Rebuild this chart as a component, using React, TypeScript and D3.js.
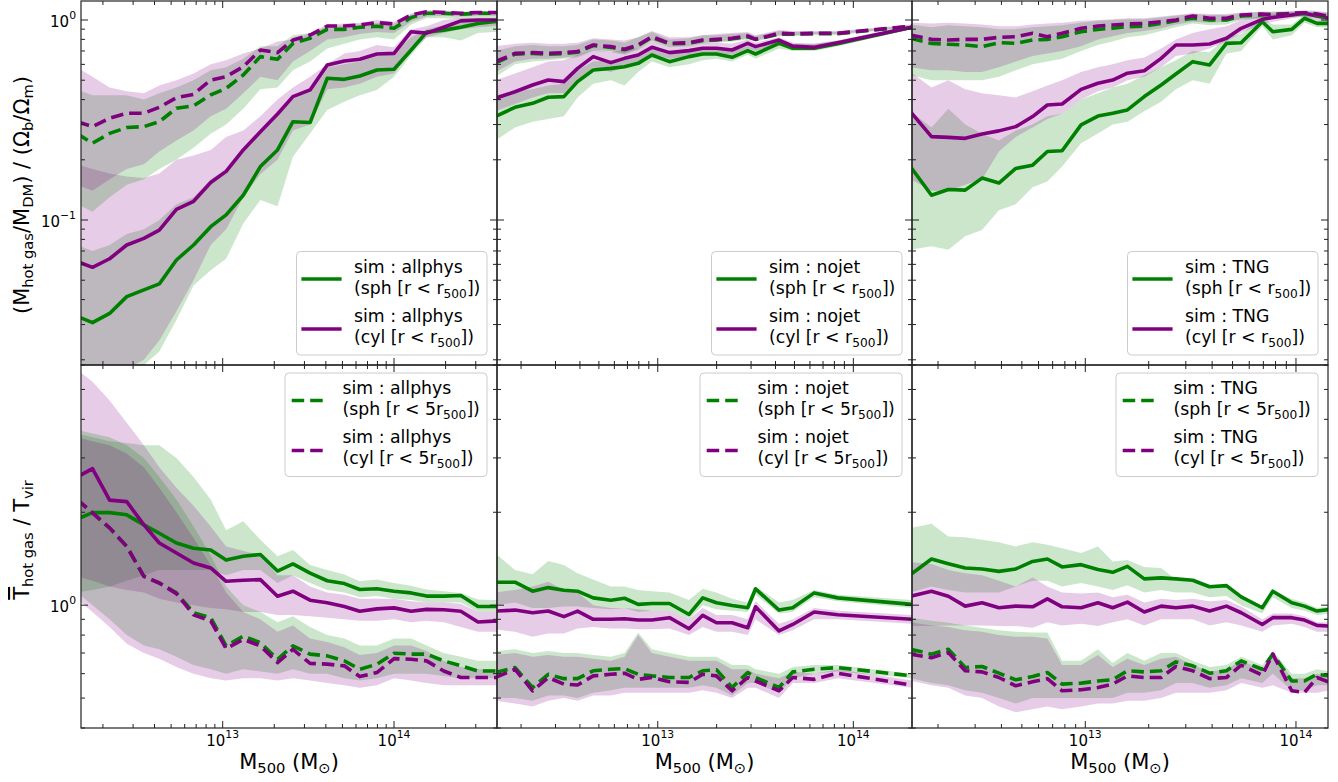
import * as d3 from "d3";

// log10(M500 / Msun) of the mass bins, one list per simulation
const logMAllphys = [12.15, 12.24, 12.34, 12.44, 12.54, 12.63, 12.73, 12.83, 12.93, 13.02,
  13.12, 13.22, 13.32, 13.41, 13.51, 13.61, 13.71, 13.8, 13.9, 14.0,
  14.1, 14.19, 14.29, 14.39, 14.49, 14.58, 14.68];
const logMNojet = [12.17, 12.27, 12.36, 12.44, 12.52, 12.59, 12.67, 12.76, 12.83, 12.9,
  12.97, 13.06, 13.16, 13.23, 13.3, 13.38, 13.46, 13.5, 13.62, 13.69,
  13.8, 13.92, 14.3];
const logMTng = [12.17, 12.27, 12.35, 12.43, 12.51, 12.59, 12.67, 12.75, 12.82, 12.89,
  12.98, 13.06, 13.13, 13.2, 13.28, 13.36, 13.43, 13.51, 13.59, 13.67,
  13.74, 13.84, 13.89, 13.98, 14.04, 14.1, 14.16];

// ---- allphys : hot gas fraction
const allGasSph = [0.033, 0.0307, 0.0341, 0.0414, 0.0447, 0.0479, 0.0631, 0.075, 0.0926, 0.106,
  0.133, 0.185, 0.224, 0.31, 0.307, 0.511, 0.505, 0.525, 0.562, 0.567,
  0.708, 0.87, 0.89, 0.92, 0.96, 0.98, 0.99];
const allGasSphLo = [0.012, 0.012, 0.013, 0.015, 0.0188, 0.022, 0.0316, 0.047, 0.056, 0.064,
  0.096, 0.126, 0.117, 0.207, 0.271, 0.355, 0.39, 0.42, 0.447, 0.52,
  0.668, 0.82, 0.82, 0.79, 0.86, 0.87, 0.87];
const allGasSphHi = [0.075, 0.07, 0.075, 0.085, 0.09, 0.1, 0.12, 0.13, 0.16, 0.18,
  0.23, 0.28, 0.34, 0.4, 0.45, 0.58, 0.6, 0.62, 0.66, 0.68,
  0.82, 0.9, 0.94, 0.98, 1.0, 1.0, 1.0];
const allGasCyl = [0.062, 0.058, 0.064, 0.075, 0.081, 0.089, 0.113, 0.124, 0.154, 0.175,
  0.224, 0.276, 0.339, 0.414, 0.447, 0.596, 0.624, 0.636, 0.676, 0.681,
  0.874, 0.86, 0.92, 0.99, 1.0, 1.0, 1.0];
const allGasCylLo = [0.015, 0.015, 0.016, 0.018, 0.02, 0.025, 0.035, 0.05, 0.075, 0.09,
  0.13, 0.17, 0.2, 0.28, 0.3, 0.45, 0.46, 0.48, 0.52, 0.54,
  0.7, 0.82, 0.86, 0.9, 0.92, 0.93, 0.93];
const allGasCylHi = [0.19, 0.18, 0.171, 0.165, 0.162, 0.171, 0.2, 0.21, 0.224, 0.26,
  0.28, 0.33, 0.4, 0.46, 0.52, 0.6, 0.68, 0.7, 0.75, 0.73,
  0.9, 0.93, 1.0, 1.02, 1.02, 1.02, 1.02];
const allGasSph5 = [0.27, 0.242, 0.271, 0.29, 0.293, 0.31, 0.362, 0.372, 0.422, 0.455,
  0.531, 0.656, 0.636, 0.764, 0.81, 0.898, 0.898, 0.92, 0.93, 0.909,
  1.03, 1.08, 1.08, 1.07, 1.08, 1.08, 1.08];
const allGasSph5Lo = [0.12, 0.11, 0.13, 0.15, 0.16, 0.18, 0.2, 0.23, 0.27, 0.3,
  0.36, 0.45, 0.46, 0.56, 0.62, 0.72, 0.76, 0.8, 0.82, 0.8,
  0.95, 1.02, 1.02, 1.01, 1.02, 1.02, 1.02];
const allGasSph5Hi = [0.45, 0.42, 0.42, 0.42, 0.4, 0.43, 0.46, 0.5, 0.56, 0.58,
  0.64, 0.74, 0.74, 0.84, 0.86, 0.93, 0.94, 0.95, 0.97, 0.96,
  1.06, 1.1, 1.1, 1.09, 1.1, 1.1, 1.1];
const allGasCyl5 = [0.31, 0.293, 0.323, 0.342, 0.342, 0.366, 0.409, 0.425, 0.501, 0.521,
  0.584, 0.708, 0.687, 0.794, 0.841, 0.933, 0.933, 0.944, 0.97, 0.955,
  1.06, 1.1, 1.09, 1.08, 1.09, 1.09, 1.09];
const allGasCyl5Lo = [0.15, 0.14, 0.16, 0.18, 0.19, 0.22, 0.25, 0.28, 0.33, 0.36,
  0.43, 0.52, 0.5, 0.62, 0.7, 0.8, 0.82, 0.85, 0.87, 0.86,
  0.98, 1.04, 1.05, 1.04, 1.05, 1.05, 1.05];
const allGasCyl5Hi = [0.58, 0.52, 0.46, 0.44, 0.43, 0.47, 0.5, 0.54, 0.6, 0.63,
  0.68, 0.72, 0.78, 0.8, 0.86, 0.95, 0.96, 0.97, 1.0, 0.98,
  1.08, 1.12, 1.12, 1.1, 1.11, 1.1, 1.1];

// ---- allphys : hot gas temperature / T_vir
const allTSph = [1.9, 1.995, 1.995, 1.962, 1.82, 1.71, 1.59, 1.53, 1.51, 1.4,
  1.44, 1.46, 1.29, 1.36, 1.27, 1.2, 1.175, 1.124, 1.13, 1.11,
  1.096, 1.07, 1.07, 1.075, 0.99, 0.99, 0.99];
const allTSphLo = [1.1, 1.12, 1.15, 1.2, 1.25, 1.3, 1.3, 1.3, 1.3, 1.25,
  1.3, 1.3, 1.18, 1.25, 1.18, 1.12, 1.1, 1.06, 1.07, 1.05,
  1.04, 1.02, 1.02, 1.02, 0.95, 0.95, 0.95];
const allTSphHi = [3.6, 3.5, 3.4, 3.35, 3.3, 3.3, 3.0, 2.6, 2.2, 1.75,
  1.87, 1.63, 1.44, 1.51, 1.35, 1.3, 1.256, 1.195, 1.21, 1.18,
  1.157, 1.124, 1.11, 1.096, 1.043, 1.04, 1.04];
const allTCyl = [2.6, 2.77, 2.19, 2.165, 1.82, 1.59, 1.476, 1.37, 1.32, 1.195,
  1.204, 1.21, 1.069, 1.11, 1.038, 1.018, 0.99, 0.956, 0.973, 0.98,
  0.956, 0.969, 0.966, 0.956, 0.882, 0.888, 0.888];
const allTCylLo = [1.24, 1.2, 1.15, 1.12, 1.1, 1.05, 1.02, 1.0, 0.98, 0.97,
  0.95, 0.95, 0.93, 0.93, 0.92, 0.91, 0.9, 0.89, 0.89, 0.9,
  0.88, 0.89, 0.88, 0.85, 0.82, 0.82, 0.82];
const allTCylHi = [5.8, 5.3, 4.6, 3.9, 3.3, 2.8, 2.4, 2.1, 1.8, 1.55,
  1.5, 1.45, 1.25, 1.25, 1.15, 1.1, 1.08, 1.05, 1.05, 1.05,
  1.03, 1.02, 1.02, 1.01, 0.95, 0.95, 0.95];
const allTSph5 = [2.2, 1.99, 1.78, 1.55, 1.24, 1.18, 1.096, 0.945, 0.911, 0.738,
  0.794, 0.756, 0.668, 0.738, 0.694, 0.685, 0.66, 0.62, 0.644, 0.699,
  0.694, 0.694, 0.66, 0.636, 0.612, 0.612, 0.612];
const allTSph5Lo = [1.1, 1.0, 0.9, 0.8, 0.74, 0.72, 0.68, 0.64, 0.62, 0.6,
  0.62, 0.61, 0.6, 0.62, 0.6, 0.6, 0.58, 0.57, 0.58, 0.6,
  0.6, 0.6, 0.59, 0.58, 0.58, 0.58, 0.58];
const allTSph5Hi = [3.7, 3.6, 3.5, 3.3, 3.0, 2.6, 2.2, 1.8, 1.45, 1.15,
  1.0, 0.95, 0.88, 0.92, 0.85, 0.8, 0.78, 0.74, 0.74, 0.78,
  0.78, 0.74, 0.7, 0.68, 0.66, 0.66, 0.66];
const allTCyl5 = [2.2, 1.99, 1.78, 1.55, 1.24, 1.18, 1.09, 0.93, 0.89, 0.723,
  0.775, 0.738, 0.652, 0.719, 0.648, 0.644, 0.636, 0.587, 0.605, 0.671,
  0.668, 0.66, 0.612, 0.583, 0.583, 0.583, 0.583];
const allTCyl5Lo = [1.05, 0.95, 0.85, 0.75, 0.7, 0.67, 0.63, 0.6, 0.58, 0.57,
  0.58, 0.58, 0.57, 0.58, 0.57, 0.56, 0.55, 0.54, 0.55, 0.58,
  0.57, 0.56, 0.55, 0.55, 0.55, 0.55, 0.55];
const allTCyl5Hi = [3.5, 3.4, 3.3, 3.1, 2.8, 2.4, 2.0, 1.65, 1.35, 1.1,
  0.95, 0.9, 0.82, 0.86, 0.78, 0.76, 0.73, 0.69, 0.7, 0.74,
  0.74, 0.71, 0.66, 0.63, 0.62, 0.62, 0.62];

// ---- nojet : hot gas fraction
const noGasSph = [0.329, 0.366, 0.383, 0.411, 0.414, 0.492, 0.562, 0.573, 0.584, 0.607,
  0.668, 0.619, 0.656, 0.676, 0.676, 0.651, 0.703, 0.676, 0.764, 0.722,
  0.722, 0.76, 0.92];
const noGasSphLo = [0.25, 0.29, 0.31, 0.32, 0.33, 0.41, 0.48, 0.5, 0.47, 0.55,
  0.62, 0.58, 0.6, 0.63, 0.64, 0.62, 0.67, 0.64, 0.72, 0.7,
  0.7, 0.74, 0.9];
const noGasSphHi = [0.42, 0.44, 0.45, 0.47, 0.48, 0.56, 0.62, 0.63, 0.64, 0.66,
  0.71, 0.67, 0.7, 0.72, 0.72, 0.7, 0.74, 0.72, 0.8, 0.76,
  0.76, 0.79, 0.94];
const noGasCyl = [0.406, 0.438, 0.473, 0.501, 0.492, 0.573, 0.656, 0.612, 0.643, 0.668,
  0.73, 0.687, 0.703, 0.722, 0.722, 0.708, 0.764, 0.736, 0.794, 0.74,
  0.73, 0.77, 0.92];
const noGasCylLo = [0.35, 0.38, 0.41, 0.43, 0.43, 0.5, 0.58, 0.55, 0.58, 0.61,
  0.68, 0.64, 0.66, 0.68, 0.68, 0.67, 0.72, 0.7, 0.76, 0.72,
  0.71, 0.75, 0.9];
const noGasCylHi = [0.5, 0.54, 0.58, 0.62, 0.63, 0.67, 0.71, 0.69, 0.71, 0.72,
  0.78, 0.74, 0.75, 0.77, 0.77, 0.76, 0.8, 0.77, 0.82, 0.77,
  0.76, 0.79, 0.94];
const noGasSph5 = [0.61, 0.675, 0.68, 0.675, 0.68, 0.69, 0.745, 0.73, 0.71, 0.745,
  0.82, 0.76, 0.765, 0.79, 0.795, 0.805, 0.825, 0.8, 0.85, 0.85,
  0.855, 0.855, 0.93];
const noGasSph5Lo = [0.52, 0.6, 0.62, 0.63, 0.64, 0.65, 0.7, 0.69, 0.67, 0.71,
  0.78, 0.73, 0.74, 0.76, 0.77, 0.78, 0.8, 0.78, 0.83, 0.83,
  0.84, 0.84, 0.92];
const noGasSph5Hi = [0.7, 0.74, 0.75, 0.74, 0.74, 0.75, 0.8, 0.79, 0.77, 0.82,
  0.87, 0.8, 0.81, 0.84, 0.84, 0.85, 0.86, 0.83, 0.88, 0.87,
  0.87, 0.87, 0.94];
const noGasCyl5 = [0.619, 0.681, 0.687, 0.681, 0.687, 0.695, 0.75, 0.736, 0.714, 0.75,
  0.825, 0.764, 0.77, 0.794, 0.8, 0.81, 0.832, 0.8, 0.858, 0.853,
  0.858, 0.858, 0.933];
const noGasCyl5Lo = [0.55, 0.62, 0.64, 0.64, 0.65, 0.66, 0.71, 0.7, 0.68, 0.72,
  0.79, 0.74, 0.75, 0.77, 0.78, 0.79, 0.81, 0.79, 0.84, 0.84,
  0.85, 0.85, 0.92];
const noGasCyl5Hi = [0.74, 0.76, 0.77, 0.76, 0.76, 0.77, 0.81, 0.8, 0.79, 0.82,
  0.88, 0.82, 0.82, 0.84, 0.85, 0.86, 0.87, 0.84, 0.89, 0.88,
  0.88, 0.88, 0.95];

// ---- nojet : hot gas temperature / T_vir
const noTSph = [1.187, 1.187, 1.11, 1.14, 1.118, 1.11, 1.056, 1.038, 1.053, 1.006,
  1.013, 1.013, 0.933, 1.056, 1.018, 0.998, 0.981, 1.13, 0.964, 0.981,
  1.096, 1.056, 1.006];
const noTSphLo = [1.0, 1.02, 0.98, 0.98, 0.99, 0.99, 0.98, 0.97, 0.98, 0.95,
  0.96, 0.96, 0.9, 1.0, 0.97, 0.96, 0.95, 1.08, 0.94, 0.95,
  1.06, 1.03, 0.98];
const noTSphHi = [1.47, 1.3, 1.26, 1.39, 1.35, 1.27, 1.21, 1.15, 1.15, 1.12,
  1.11, 1.1, 1.04, 1.13, 1.1, 1.05, 1.02, 1.15, 1.02, 1.04,
  1.12, 1.08, 1.04];
const noTCyl = [0.957, 0.964, 0.945, 0.957, 0.918, 0.957, 0.9, 0.9, 0.904, 0.895,
  0.895, 0.911, 0.839, 0.927, 0.877, 0.877, 0.845, 0.988, 0.825, 0.866,
  0.95, 0.931, 0.9];
const noTCylLo = [0.835, 0.82, 0.79, 0.81, 0.81, 0.84, 0.85, 0.84, 0.84, 0.835,
  0.835, 0.84, 0.8, 0.85, 0.82, 0.82, 0.8, 0.9, 0.8, 0.83,
  0.9, 0.9, 0.87];
const noTCylHi = [1.1, 1.12, 1.15, 1.19, 1.12, 1.1, 1.0, 0.98, 0.98, 0.97,
  0.96, 0.96, 0.9, 0.98, 0.93, 0.93, 0.9, 1.03, 0.87, 0.9,
  0.98, 0.96, 0.93];
const noTSph5 = [0.605, 0.628, 0.541, 0.597, 0.578, 0.578, 0.613, 0.62, 0.623, 0.597,
  0.59, 0.583, 0.583, 0.613, 0.618, 0.541, 0.605, 0.583, 0.541, 0.608,
  0.62, 0.628, 0.59];
const noTSph5Lo = [0.5, 0.5, 0.49, 0.51, 0.51, 0.5, 0.52, 0.53, 0.54, 0.54,
  0.54, 0.54, 0.54, 0.55, 0.54, 0.51, 0.56, 0.56, 0.52, 0.58,
  0.6, 0.61, 0.58];
const noTSph5Hi = [0.71, 0.72, 0.7, 0.71, 0.7, 0.7, 0.69, 0.68, 0.7, 0.815,
  0.72, 0.7, 0.68, 0.68, 0.68, 0.64, 0.64, 0.62, 0.6, 0.63,
  0.64, 0.64, 0.6];
const noTCyl5 = [0.583, 0.62, 0.528, 0.583, 0.555, 0.551, 0.59, 0.597, 0.602, 0.575,
  0.583, 0.565, 0.562, 0.597, 0.59, 0.528, 0.583, 0.568, 0.528, 0.583,
  0.575, 0.602, 0.551];
const noTCyl5Lo = [0.49, 0.48, 0.47, 0.49, 0.5, 0.49, 0.51, 0.51, 0.52, 0.52,
  0.52, 0.52, 0.52, 0.53, 0.52, 0.5, 0.54, 0.54, 0.5, 0.56,
  0.56, 0.58, 0.54];
const noTCyl5Hi = [0.69, 0.7, 0.68, 0.69, 0.68, 0.68, 0.67, 0.66, 0.68, 0.8,
  0.7, 0.68, 0.66, 0.66, 0.66, 0.62, 0.62, 0.6, 0.58, 0.61,
  0.6, 0.62, 0.57];

// ---- TNG : hot gas fraction
const tngGasSph = [0.185, 0.133, 0.142, 0.141, 0.162, 0.153, 0.181, 0.188, 0.22, 0.222,
  0.299, 0.331, 0.342, 0.355, 0.414, 0.473, 0.537, 0.619, 0.596, 0.764,
  0.77, 0.98, 0.874, 0.898, 1.02, 0.962, 0.962];
const tngGasSphLo = [0.071, 0.074, 0.071, 0.083, 0.089, 0.112, 0.12, 0.146, 0.156, 0.185,
  0.242, 0.271, 0.3, 0.31, 0.35, 0.39, 0.45, 0.5, 0.48, 0.68,
  0.7, 0.93, 0.8, 0.84, 0.97, 0.92, 0.92];
const tngGasSphHi = [0.35, 0.29, 0.36, 0.3, 0.27, 0.25, 0.28, 0.3, 0.33, 0.34,
  0.4, 0.43, 0.46, 0.48, 0.53, 0.58, 0.63, 0.7, 0.69, 0.82,
  0.85, 1.02, 0.95, 0.95, 1.06, 1.0, 1.0];
const tngGasCyl = [0.348, 0.261, 0.259, 0.256, 0.269, 0.279, 0.293, 0.329, 0.376, 0.38,
  0.45, 0.483, 0.501, 0.542, 0.558, 0.643, 0.75, 0.75, 0.759, 0.81,
  0.909, 1.008, 1.03, 1.06, 1.08, 1.047, 1.02];
const tngGasCylLo = [0.16, 0.14, 0.14, 0.15, 0.16, 0.22, 0.26, 0.29, 0.32, 0.34,
  0.4, 0.44, 0.46, 0.5, 0.52, 0.58, 0.66, 0.68, 0.72, 0.78,
  0.86, 0.96, 0.98, 1.02, 1.04, 1.0, 0.98];
const tngGasCylHi = [0.55, 0.46, 0.5, 0.45, 0.43, 0.42, 0.41, 0.44, 0.47, 0.5,
  0.55, 0.58, 0.6, 0.63, 0.65, 0.72, 0.8, 0.86, 0.9, 0.93,
  1.0, 1.05, 1.07, 1.1, 1.11, 1.08, 1.05];
const tngGasSph5 = [0.81, 0.764, 0.756, 0.75, 0.736, 0.77, 0.764, 0.794, 0.8, 0.825,
  0.874, 0.898, 0.909, 0.926, 0.933, 0.962, 0.992, 1.02, 1.0, 1.0,
  1.047, 1.06, 1.072, 1.072, 1.08, 1.06, 1.02];
const tngGasSph5Lo = [0.53, 0.5, 0.5, 0.5, 0.5, 0.52, 0.56, 0.6, 0.62, 0.64,
  0.7, 0.75, 0.78, 0.82, 0.84, 0.88, 0.92, 0.96, 0.94, 0.95,
  1.0, 1.02, 1.03, 1.03, 1.04, 1.02, 0.98];
const tngGasSph5Hi = [0.95, 0.92, 0.94, 0.93, 0.92, 0.9, 0.9, 0.92, 0.93, 0.94,
  0.97, 0.99, 1.0, 1.01, 1.01, 1.03, 1.05, 1.07, 1.06, 1.06,
  1.08, 1.1, 1.1, 1.1, 1.11, 1.1, 1.08];
const tngGasCyl5 = [0.841, 0.8, 0.794, 0.8, 0.8, 0.819, 0.825, 0.858, 0.825, 0.858,
  0.909, 0.933, 0.944, 0.955, 0.962, 0.981, 1.0, 1.047, 1.02, 1.02,
  1.06, 1.072, 1.06, 1.08, 1.088, 1.072, 1.04];
const tngGasCyl5Lo = [0.58, 0.56, 0.56, 0.55, 0.55, 0.58, 0.62, 0.66, 0.68, 0.7,
  0.74, 0.8, 0.83, 0.86, 0.88, 0.91, 0.95, 0.98, 0.97, 0.98,
  1.01, 1.03, 1.03, 1.04, 1.05, 1.03, 1.0];
const tngGasCyl5Hi = [0.97, 0.96, 0.97, 0.96, 0.95, 0.93, 0.93, 0.95, 0.96, 0.97,
  0.99, 1.0, 1.01, 1.02, 1.02, 1.04, 1.06, 1.08, 1.07, 1.07,
  1.09, 1.1, 1.1, 1.11, 1.12, 1.11, 1.09];

// ---- TNG : hot gas temperature / T_vir
const tngTSph = [1.256, 1.411, 1.363, 1.32, 1.31, 1.287, 1.31, 1.386, 1.411, 1.33,
  1.353, 1.304, 1.278, 1.336, 1.217, 1.226, 1.217, 1.204, 1.147, 1.157,
  1.064, 0.981, 1.11, 1.018, 0.993, 0.957, 0.969];
const tngTSphLo = [1.1, 1.15, 1.12, 1.1, 1.1, 1.1, 1.15, 1.2, 1.2, 1.15,
  1.18, 1.15, 1.12, 1.16, 1.1, 1.12, 1.1, 1.1, 1.06, 1.07,
  1.0, 0.94, 1.06, 0.98, 0.96, 0.93, 0.94];
const tngTSphHi = [1.777, 1.835, 1.67, 1.66, 1.63, 1.6, 1.55, 1.6, 1.57, 1.53,
  1.476, 1.55, 1.386, 1.4, 1.33, 1.32, 1.21, 1.21, 1.16, 1.16,
  1.07, 0.99, 1.12, 1.05, 1.02, 0.98, 0.99];
const tngTCyl = [1.069, 1.11, 1.069, 0.993, 1.018, 0.981, 0.993, 0.988, 1.048, 0.988,
  0.981, 1.018, 0.981, 1.023, 0.95, 0.993, 0.981, 0.993, 0.957, 0.993,
  0.945, 0.866, 0.911, 0.911, 0.895, 0.86, 0.856];
const tngTCylLo = [0.856, 0.856, 0.86, 0.86, 0.86, 0.856, 0.856, 0.845, 0.88, 0.86,
  0.87, 0.856, 0.88, 0.9, 0.86, 0.9, 0.9, 0.9, 0.86, 0.88,
  0.86, 0.82, 0.86, 0.87, 0.85, 0.82, 0.82];
const tngTCylHi = [1.38, 1.36, 1.3, 1.27, 1.25, 1.2, 1.15, 1.23, 1.15, 1.1,
  1.09, 1.1, 1.06, 1.08, 1.02, 1.05, 1.04, 1.05, 1.03, 1.04,
  0.99, 0.9, 0.94, 0.94, 0.92, 0.88, 0.88];
const tngTSph5 = [0.72, 0.694, 0.72, 0.628, 0.633, 0.602, 0.573, 0.587, 0.605, 0.555,
  0.559, 0.568, 0.573, 0.613, 0.608, 0.613, 0.655, 0.636, 0.602, 0.613,
  0.66, 0.62, 0.694, 0.568, 0.568, 0.597, 0.59];
const tngTSph5Lo = [0.58, 0.56, 0.55, 0.53, 0.52, 0.5, 0.48, 0.5, 0.5, 0.5,
  0.5, 0.5, 0.5, 0.52, 0.52, 0.53, 0.56, 0.56, 0.54, 0.55,
  0.58, 0.56, 0.6, 0.53, 0.53, 0.55, 0.55];
const tngTSph5Hi = [0.91, 0.89, 0.877, 0.86, 0.845, 0.83, 0.82, 0.815, 0.815, 0.66,
  0.66, 0.72, 0.65, 0.7, 0.66, 0.7, 0.7, 0.66, 0.63, 0.64,
  0.68, 0.64, 0.71, 0.6, 0.6, 0.62, 0.61];
const tngTCyl5 = [0.694, 0.676, 0.702, 0.613, 0.608, 0.583, 0.548, 0.565, 0.578, 0.528,
  0.532, 0.541, 0.555, 0.59, 0.583, 0.583, 0.633, 0.613, 0.578, 0.583,
  0.639, 0.593, 0.694, 0.528, 0.521, 0.583, 0.562];
const tngTCyl5Lo = [0.57, 0.55, 0.54, 0.51, 0.5, 0.47, 0.45, 0.46, 0.47, 0.46,
  0.47, 0.48, 0.48, 0.49, 0.49, 0.5, 0.52, 0.52, 0.52, 0.53,
  0.56, 0.54, 0.55, 0.52, 0.52, 0.52, 0.53];
const tngTCyl5Hi = [0.88, 0.86, 0.85, 0.83, 0.82, 0.8, 0.79, 0.79, 0.78, 0.64,
  0.64, 0.69, 0.63, 0.67, 0.64, 0.67, 0.68, 0.64, 0.61, 0.62,
  0.66, 0.62, 0.7, 0.58, 0.58, 0.6, 0.59];

const simNames = ["allphys", "nojet", "TNG"];

// layout (px)
const W = 1338;
const H = 782;
const COL_X = [81, 497, 912, 1328];
const ROW_Y = [1, 365, 728];
// x limits in log10(M500)
const X_LIM = [[12.173, 14.601], [12.178, 14.3], [12.1775, 14.152]];
const Y_LIM = [[10 ** -1.725, 10 ** 0.095], [0.4, 6]];

const GREEN = "#008000";
const PURPLE = "#800080";
const FONT = "DejaVu Sans";
const LW = 3.6;
const DASH = "12.5 6";

type Curve = { mid: number[]; lo: number[]; hi: number[]; color: string; dashed: boolean };

const curve = (mid, lo, hi, color, dashed): Curve => ({ mid, lo, hi, color, dashed });

const panels = [
  { row: 0, col: 0, logM: logMAllphys, curves: [
    curve(allGasSph, allGasSphLo, allGasSphHi, GREEN, false),
    curve(allGasCyl, allGasCylLo, allGasCylHi, PURPLE, false),
    curve(allGasSph5, allGasSph5Lo, allGasSph5Hi, GREEN, true),
    curve(allGasCyl5, allGasCyl5Lo, allGasCyl5Hi, PURPLE, true)] },
  { row: 0, col: 1, logM: logMNojet, curves: [
    curve(noGasSph, noGasSphLo, noGasSphHi, GREEN, false),
    curve(noGasCyl, noGasCylLo, noGasCylHi, PURPLE, false),
    curve(noGasSph5, noGasSph5Lo, noGasSph5Hi, GREEN, true),
    curve(noGasCyl5, noGasCyl5Lo, noGasCyl5Hi, PURPLE, true)] },
  { row: 0, col: 2, logM: logMTng, curves: [
    curve(tngGasSph, tngGasSphLo, tngGasSphHi, GREEN, false),
    curve(tngGasCyl, tngGasCylLo, tngGasCylHi, PURPLE, false),
    curve(tngGasSph5, tngGasSph5Lo, tngGasSph5Hi, GREEN, true),
    curve(tngGasCyl5, tngGasCyl5Lo, tngGasCyl5Hi, PURPLE, true)] },
  { row: 1, col: 0, logM: logMAllphys, curves: [
    curve(allTSph, allTSphLo, allTSphHi, GREEN, false),
    curve(allTCyl, allTCylLo, allTCylHi, PURPLE, false),
    curve(allTSph5, allTSph5Lo, allTSph5Hi, GREEN, true),
    curve(allTCyl5, allTCyl5Lo, allTCyl5Hi, PURPLE, true)] },
  { row: 1, col: 1, logM: logMNojet, curves: [
    curve(noTSph, noTSphLo, noTSphHi, GREEN, false),
    curve(noTCyl, noTCylLo, noTCylHi, PURPLE, false),
    curve(noTSph5, noTSph5Lo, noTSph5Hi, GREEN, true),
    curve(noTCyl5, noTCyl5Lo, noTCyl5Hi, PURPLE, true)] },
  { row: 1, col: 2, logM: logMTng, curves: [
    curve(tngTSph, tngTSphLo, tngTSphHi, GREEN, false),
    curve(tngTCyl, tngTCylLo, tngTCylHi, PURPLE, false),
    curve(tngTSph5, tngTSph5Lo, tngTSph5Hi, GREEN, true),
    curve(tngTCyl5, tngTCyl5Lo, tngTCyl5Hi, PURPLE, true)] },
];

// decade + minor ticks inside a log domain
function logTicks(lo: number, hi: number) {
  const out: { v: number; major: boolean; e: number }[] = [];
  for (let e = Math.floor(Math.log10(lo)) - 1; e <= Math.ceil(Math.log10(hi)); e++) {
    for (let k = 1; k < 10; k++) {
      const v = k * 10 ** e;
      if (v >= lo * 0.999 && v <= hi * 1.001) out.push({ v, major: k === 1, e });
    }
  }
  return out;
}

const expText = (e: number) => (e < 0 ? "\u2212" + Math.abs(e) : String(e));

function Legend({ row, col, sim }) {
  const dashed = row === 1;
  const w = dashed ? 202 : 190.5;
  const h = 103.5;
  const right = COL_X[col + 1] - 10;
  const top = row === 0 ? ROW_Y[1] - 10 - h : ROW_Y[1] + 8;
  const left = right - w;
  const r = dashed ? "5r" : "r";
  const entries = [
    { color: GREEN, kind: "sph" },
    { color: PURPLE, kind: "cyl" },
  ];
  return (
    <g>
      <rect x={left} y={top} width={w} height={h} rx={4} fill="white" fillOpacity={0.8} stroke="#cccccc" strokeWidth={1} />
      {entries.map((en, i) => (
        <g key={i}>
          <line
            x1={left + 6.7} x2={left + 43.3}
            y1={top + 27.5 + i * 50} y2={top + 27.5 + i * 50}
            stroke={en.color} strokeWidth={LW}
            strokeDasharray={dashed ? DASH : undefined}
            strokeLinecap={dashed ? "butt" : "square"}
          />
          <text x={left + 57.5} y={top + 21 + i * 49} fontSize={17.3} fontFamily={FONT}>sim : {sim}</text>
          <text x={left + 57.5} y={top + 42 + i * 49} fontSize={17.3} fontFamily={FONT}>
            ({en.kind} [r &lt; {r}<tspan fontSize={12.2} dy={4}>500</tspan><tspan dy={-4}>])</tspan>
          </text>
        </g>
      ))}
    </g>
  );
}

function Panel({ p }) {
  const x0 = COL_X[p.col];
  const x1 = COL_X[p.col + 1];
  const yt = ROW_Y[p.row];
  const yb = ROW_Y[p.row + 1];
  const xs = d3.scaleLog().domain(X_LIM[p.col].map((v) => 10 ** v)).range([x0, x1]);
  const ys = d3.scaleLog().domain(Y_LIM[p.row]).range([yb, yt]);
  const clipId = `clip-${p.row}-${p.col}`;

  const xTicks = logTicks(xs.domain()[0], xs.domain()[1]);
  const yTicks = logTicks(ys.domain()[0], ys.domain()[1]);

  const paths = p.curves.map((c: Curve) => {
    const n = Math.min(p.logM.length, c.mid.length, c.lo.length, c.hi.length);
    const idx = d3.range(n);
    const px = (i: number) => xs(10 ** p.logM[i]);
    const area = d3.area<number>().x(px).y0((i) => ys(c.lo[i])).y1((i) => ys(c.hi[i]));
    const line = d3.line<number>().x(px).y((i) => ys(c.mid[i]));
    return { c, band: area(idx), line: line(idx) };
  });

  const TICK_MAJ = 7;
  const TICK_MIN = 4;

  return (
    <g>
      <defs>
        <clipPath id={clipId}>
          <rect x={x0} y={yt} width={x1 - x0} height={yb - yt} />
        </clipPath>
      </defs>
      <g clipPath={`url(#${clipId})`}>
        {paths.map((d, i) => (
          <path key={"b" + i} d={d.band} fill={d.c.color} fillOpacity={0.2} stroke="none" />
        ))}
        {paths.map((d, i) => (
          <path key={"l" + i} d={d.line} fill="none" stroke={d.c.color} strokeWidth={LW}
            strokeLinejoin="round"
            strokeDasharray={d.c.dashed ? DASH : undefined} />
        ))}
      </g>

      {/* ticks, pointing inwards on all four sides */}
      {xTicks.map((t, i) => {
        const x = xs(t.v);
        const len = t.major ? TICK_MAJ : TICK_MIN;
        return (
          <g key={"xt" + i} stroke="#222" strokeWidth={1}>
            <line x1={x} x2={x} y1={yb} y2={yb - len} />
            <line x1={x} x2={x} y1={yt} y2={yt + len} />
          </g>
        );
      })}
      {yTicks.map((t, i) => {
        const y = ys(t.v);
        const len = t.major ? TICK_MAJ : TICK_MIN;
        return (
          <g key={"yt" + i} stroke="#222" strokeWidth={1}>
            <line x1={x0} x2={x0 + len} y1={y} y2={y} />
            <line x1={x1} x2={x1 - len} y1={y} y2={y} />
          </g>
        );
      })}

      {p.row === 1 && xTicks.filter((t) => t.major).map((t, i) => (
        <text key={"xl" + i} x={xs(t.v)} y={745.5} textAnchor="middle" fontSize={15} fontFamily={FONT}>
          10<tspan fontSize={10.8} dy={-7.5}>{expText(t.e)}</tspan>
        </text>
      ))}
      {p.col === 0 && yTicks.filter((t) => t.major).map((t, i) => (
        <text key={"yl" + i} x={76} y={ys(t.v) + 6.5} textAnchor="end" fontSize={15} fontFamily={FONT}>
          10<tspan fontSize={10.8} dy={-7.5}>{expText(t.e)}</tspan>
        </text>
      ))}

      <rect x={x0} y={yt} width={x1 - x0} height={yb - yt} fill="none" stroke="#222" strokeWidth={1.2} />

      <Legend row={p.row} col={p.col} sim={simNames[p.col]} />
    </g>
  );
}

export default function App() {
  return (
    <svg width={W} height={H} style={{ position: "absolute", left: 0, top: 0, background: "white" }}>
      {panels.map((p, i) => (
        <Panel key={i} p={p} />
      ))}

      {/* x axis labels */}
      {[0, 1, 2].map((c) => (
        <text key={"xlab" + c} x={(COL_X[c] + COL_X[c + 1]) / 2} y={769} textAnchor="middle" fontSize={21} fontFamily={FONT}>
          M<tspan fontSize={14.7} dy={4}>500</tspan><tspan dy={-4}> (M</tspan><tspan fontSize={14.7} dy={4}>{"\u2299"}</tspan><tspan dy={-4}>)</tspan>
        </text>
      ))}

      {/* y axis labels */}
      <text transform="translate(29,195) rotate(-90)" textAnchor="middle" fontSize={21} fontFamily={FONT}>
        (M<tspan fontSize={14.7} dy={4}>hot gas</tspan><tspan dy={-4}>/M</tspan><tspan fontSize={14.7} dy={4}>DM</tspan>
        <tspan dy={-4}>) / (Ω</tspan><tspan fontSize={14.7} dy={4}>b</tspan><tspan dy={-4}>/Ω</tspan>
        <tspan fontSize={14.7} dy={4}>m</tspan><tspan dy={-4}>)</tspan>
      </text>
      <text transform="translate(29,540) rotate(-90)" textAnchor="middle" fontSize={21} fontFamily={FONT}>
        <tspan style={{ textDecoration: "overline" }}>T</tspan><tspan fontSize={14.7} dy={4}>hot gas</tspan><tspan dy={-4}> / T</tspan>
        <tspan fontSize={14.7} dy={4}>vir</tspan>
      </text>
    </svg>
  );
}
